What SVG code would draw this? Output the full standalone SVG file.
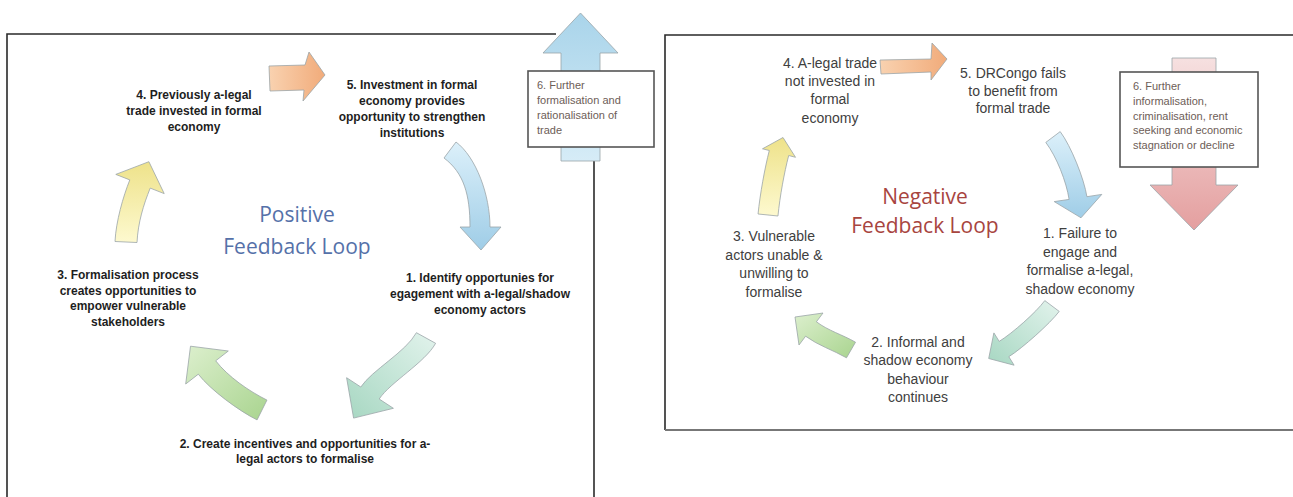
<svg xmlns="http://www.w3.org/2000/svg" width="1293" height="497" viewBox="0 0 1293 497">
<defs>
  <linearGradient id="gBlueUp" x1="0" y1="0" x2="0" y2="1"><stop offset="0" stop-color="#a9d4ea"/><stop offset="1" stop-color="#d6ecf7"/></linearGradient>
  <linearGradient id="gBlue" x1="0" y1="0" x2="0" y2="1"><stop offset="0" stop-color="#dcf0fa"/><stop offset="1" stop-color="#9fcde7"/></linearGradient>
  <linearGradient id="gYellow" x1="0" y1="1" x2="0" y2="0"><stop offset="0" stop-color="#fdf9cf"/><stop offset="1" stop-color="#eee28a"/></linearGradient>
  <linearGradient id="gOrange" x1="0" y1="0" x2="1" y2="0"><stop offset="0" stop-color="#f9d2b0"/><stop offset="1" stop-color="#f1ab7a"/></linearGradient>
  <linearGradient id="gGreen" x1="1" y1="1" x2="0" y2="0"><stop offset="0" stop-color="#a9d48f"/><stop offset="1" stop-color="#dcefcd"/></linearGradient>
  <linearGradient id="gTeal" x1="1" y1="0" x2="0" y2="1"><stop offset="0" stop-color="#e2f3ec"/><stop offset="1" stop-color="#a7d7c2"/></linearGradient>
  <linearGradient id="gRed" x1="0" y1="0" x2="0" y2="1"><stop offset="0" stop-color="#f6e0e0"/><stop offset="1" stop-color="#e49f9f"/></linearGradient>
</defs>
<style>
  .lt { font-family: "Liberation Sans", Arial, sans-serif; font-size: 12px; font-weight: bold; fill: #1e1e1e; text-anchor: middle; }
  .rt { font-family: "Liberation Sans", Arial, sans-serif; font-size: 14px; fill: #404040; text-anchor: middle; }
  .bx { font-family: "Liberation Sans", Arial, sans-serif; font-size: 11px; fill: #6d5d57; }
  .title { font-family: "Open Sans", "Liberation Sans", sans-serif; font-size: 21px; text-anchor: middle; }
  .frame { fill: none; stroke: #2a2a2a; stroke-width: 1.6; }
  .box { fill: #ffffff; stroke: #555555; stroke-width: 1.6; }
  .arr { stroke: #9aa5a8; stroke-width: 0.8; stroke-linejoin: round; }
</style>
<rect width="1293" height="497" fill="#ffffff"/>
<g id="frames">
  <path class="frame" d="M7,497 V34 H556"/>
  <path class="frame" d="M594,160 V497"/>
  <path class="frame" d="M1293,35 H665 V430"/>
  <path d="M665,430 H1293" fill="none" stroke="#777777" stroke-width="1.8"/>
</g>
<g id="connectors">
  <path id="arrow-l6" class="arr" fill="url(#gBlueUp)" d="M561,161 V53 H543 L580.5,13 L618,53 H600 V161 Z"/>
  <path id="arrow-l45" class="arr" fill="url(#gOrange)" d="M269,66 L305,65 L309,52 L325,75 L303,101 L304,90 L270,91 Z"/>
  <path id="arrow-l51" class="arr" fill="url(#gBlue)" d="M456,142 C476,157 490,195 490,227 L501,227 L481,250 L460,227 L470,227 C470,195 464,173 444,158 Z"/>
  <path id="arrow-l12" class="arr" fill="url(#gTeal)" d="M416.4,332.7 C405.8,352.0 371.8,370.3 360.8,387.0 L346.6,377.7 L353.6,418.1 L393.4,408.3 L379.2,399.0 C390.2,382.3 425.0,362.6 435.6,343.3 Z"/>
  <path id="arrow-l23" class="arr" fill="url(#gGreen)" d="M266.95,400.1 C248.95,391.1 227.9,376.6 215.7,360.8 L228.3,351.0 L190.5,346.2 L185.7,384.0 L198.3,374.2 C210.5,390.0 239.05,410.9 257.05,419.9 Z"/>
  <path id="arrow-l34" class="arr" fill="url(#gYellow)" d="M137,242.5 C138,222.5 143.5,204.8 150.2,188.1 L164.2,193.6 L148.9,161.7 L115.8,174.4 L129.8,179.9 C123.1,196.6 116,221.5 115,241.5 Z"/>

  <path id="arrow-r6" class="arr" fill="url(#gRed)" d="M1172,58 H1216 V185 H1238 L1194,230 L1150,185 H1172 Z"/>
  <path id="arrow-r45" class="arr" fill="url(#gOrange)" d="M880,60 L931,59 L932,43 L947,59 L931,80 L931,72 L881,74 Z"/>
  <path id="arrow-r51" class="arr" fill="url(#gBlue)" d="M1060.2,131.6 C1071.0,146.0 1084.2,178.9 1086.9,196.7 L1101.8,194.4 L1081,217.8 L1054.2,201.6 L1069.1,199.4 C1066.4,181.6 1056.6,156.8 1045.8,142.4 Z"/>
  <path id="arrow-r12" class="arr" fill="url(#gTeal)" d="M1044.8,300.6 C1035.8,312.6 1012.8,332.9 999.2,341.4 L993.9,332.9 L988.7,358.5 L1014.1,365.2 L1008.8,356.7 C1022.4,348.2 1050.2,323.4 1059.2,311.4 Z"/>
  <path id="arrow-r23" class="arr" fill="url(#gGreen)" d="M855.5,342.2 C842.5,334.7 828.4,330.8 816.4,321.8 L823,313 L795,317 L799,345 L805.6,336.2 C817.6,345.2 833.5,350.3 846.5,357.8 Z"/>
  <path id="arrow-r34" class="arr" fill="url(#gYellow)" d="M777.95,216 C779.95,196.1 784.2,172.9 788.7,155.5 L795.5,157.3 L783,137.5 L762.5,148.8 L769.3,150.5 C764.8,167.9 760.05,194.1 758.05,214 Z"/>
</g>

<g id="node-l6">
  <rect class="box" x="528" y="71" width="126" height="76"/>
  <text class="bx" x="537" y="89">6. Further</text>
  <text class="bx" x="537" y="104">formalisation and</text>
  <text class="bx" x="537" y="119">rationalisation of</text>
  <text class="bx" x="537" y="134">trade</text>
</g>
<g id="node-l4">
  <text class="lt" x="194" y="99">4. Previously a-legal</text>
  <text class="lt" x="194" y="115">trade invested in formal</text>
  <text class="lt" x="194" y="131">economy</text>
</g>
<g id="node-l5">
  <text class="lt" x="412" y="89">5. Investment in formal</text>
  <text class="lt" x="412" y="105">economy provides</text>
  <text class="lt" x="412" y="121">opportunity to strengthen</text>
  <text class="lt" x="412" y="137">institutions</text>
</g>
<g id="title-positive">
  <text class="title" x="297" y="222" fill="#5571a9">Positive</text>
  <text class="title" x="297" y="254" fill="#5571a9">Feedback Loop</text>
</g>
<g id="node-l3">
  <text class="lt" x="128" y="279">3. Formalisation process</text>
  <text class="lt" x="128" y="294.5">creates opportunities to</text>
  <text class="lt" x="128" y="310">empower vulnerable</text>
  <text class="lt" x="128" y="325.5">stakeholders</text>
</g>
<g id="node-l1">
  <text class="lt" x="480" y="282">1. Identify opportunies for</text>
  <text class="lt" x="480" y="298">egagement with a-legal/shadow</text>
  <text class="lt" x="480" y="314">economy actors</text>
</g>
<g id="node-l2">
  <text class="lt" x="305" y="448">2. Create incentives and opportunities for a-</text>
  <text class="lt" x="305" y="463">legal actors to formalise</text>
</g>

<g id="node-r6">
  <rect class="box" x="1120" y="72" width="138" height="95"/>
  <text class="bx" x="1133" y="90">6. Further</text>
  <text class="bx" x="1133" y="105">informalisation,</text>
  <text class="bx" x="1133" y="119.5">criminalisation, rent</text>
  <text class="bx" x="1133" y="134">seeking and economic</text>
  <text class="bx" x="1133" y="148.5">stagnation or decline</text>
</g>
<g id="node-r4">
  <text class="rt" x="830" y="68">4. A-legal trade</text>
  <text class="rt" x="830" y="86">not invested in</text>
  <text class="rt" x="830" y="104">formal</text>
  <text class="rt" x="830" y="123">economy</text>
</g>
<g id="node-r5">
  <text class="rt" x="1013" y="78">5. DRCongo fails</text>
  <text class="rt" x="1013" y="96">to benefit from</text>
  <text class="rt" x="1013" y="113">formal trade</text>
</g>
<g id="title-negative">
  <text class="title" x="925" y="204" fill="#a8453f">Negative</text>
  <text class="title" x="925" y="233" fill="#a8453f">Feedback Loop</text>
</g>
<g id="node-r3">
  <text class="rt" x="774" y="241">3. Vulnerable</text>
  <text class="rt" x="774" y="259.5">actors unable &amp;</text>
  <text class="rt" x="774" y="278">unwilling to</text>
  <text class="rt" x="774" y="296.5">formalise</text>
</g>
<g id="node-r1">
  <text class="rt" x="1080" y="238">1. Failure to</text>
  <text class="rt" x="1080" y="256.5">engage and</text>
  <text class="rt" x="1080" y="275">formalise a-legal,</text>
  <text class="rt" x="1080" y="293.5">shadow economy</text>
</g>
<g id="node-r2">
  <text class="rt" x="918" y="347">2. Informal and</text>
  <text class="rt" x="918" y="365">shadow economy</text>
  <text class="rt" x="918" y="383.5">behaviour</text>
  <text class="rt" x="918" y="402">continues</text>
</g>
</svg>
